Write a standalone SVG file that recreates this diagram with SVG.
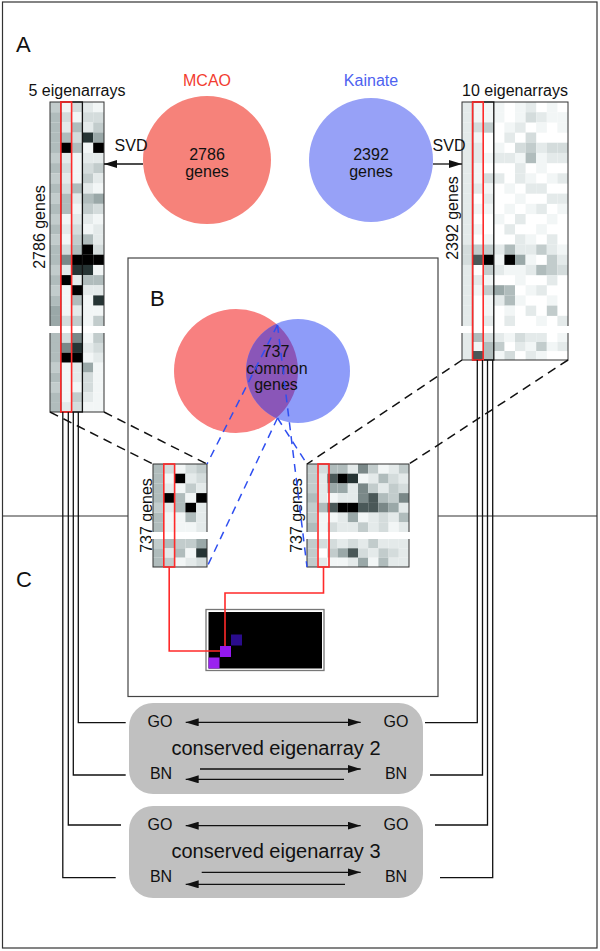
<svg xmlns="http://www.w3.org/2000/svg" width="600" height="951" viewBox="0 0 600 951">
<style>
text{font-family:"Liberation Sans",Arial,Helvetica,sans-serif;fill:#111}
.k0{fill:#000}.k1{fill:#263434}.k2{fill:#4a5858}.k3{fill:#7a8888}.k4{fill:#9aa8a8}.k5{fill:#b0bcbc}.k6{fill:#c2cccc}.k7{fill:#d4dcdc}.k8{fill:#e4eaea}.k9{fill:#f2f6f6}
.ln{stroke:#111;stroke-width:1.3;fill:none}
.dk{stroke:#111;stroke-width:1.5;stroke-dasharray:9 6;fill:none}
.db{stroke:#2f4ff0;stroke-width:1.5;stroke-dasharray:8 6;fill:none}
.red{stroke:#ff2a2a;stroke-width:1.6;fill:none}
.blk{stroke:#111;stroke-width:1.3;fill:none}
.out{stroke:#333;stroke-width:1;fill:none}
.lbl{font-size:16px}
.big{font-size:22px}
</style>
<defs>
<marker id="ah" viewBox="0 0 13 8" refX="13" refY="4" markerWidth="13" markerHeight="8" orient="auto-start-reverse" markerUnits="userSpaceOnUse"><path d="M0,0 L13,4 L0,8 z" fill="#111"/></marker>
<clipPath id="clipBlue"><circle cx="298" cy="371" r="52"/></clipPath>
</defs>
<rect x="0" y="0" width="600" height="951" fill="#fff"/>
<rect x="2.5" y="2" width="594.5" height="946" fill="none" stroke="#333" stroke-width="1.2"/>
<line x1="2" y1="516" x2="597" y2="516" stroke="#333" stroke-width="1.2"/>
<text x="16" y="52" class="big">A</text>
<text x="16" y="587" class="big">C</text>

<g id="boxB">
<rect x="128" y="258" width="310" height="438.5" fill="#fff" stroke="#444" stroke-width="1.2"/>
<text x="150" y="306" class="big">B</text>
</g>

<g id="mcao">
<circle cx="207" cy="160" r="64" fill="#f6827a"/>
<text x="207" y="86" class="lbl" text-anchor="middle" style="fill:#f23c30">MCAO</text>
<text x="207" y="160" class="lbl" text-anchor="middle">2786</text>
<text x="207" y="177" class="lbl" text-anchor="middle">genes</text>
</g>
<g id="kainate">
<circle cx="371" cy="160" r="62" fill="#97a1f7"/>
<text x="371" y="86" class="lbl" text-anchor="middle" style="fill:#4e62f0">Kainate</text>
<text x="371" y="160" class="lbl" text-anchor="middle">2392</text>
<text x="371" y="177" class="lbl" text-anchor="middle">genes</text>
</g>

<g id="venn">
<circle cx="236" cy="371" r="62" fill="#f88080"/>
<circle cx="298" cy="371" r="52" fill="#8e9cf9"/>
<circle cx="236" cy="371" r="62" fill="#8a56b8" clip-path="url(#clipBlue)"/>
<text x="276" y="357" class="lbl" text-anchor="middle">737</text>
<text x="277" y="374" class="lbl" text-anchor="middle">common</text>
<text x="276" y="390" class="lbl" text-anchor="middle">genes</text>
</g>

<g id="leftMatrix">
<text x="77" y="96" class="lbl" text-anchor="middle">5 eigenarrays</text>
<text transform="translate(45,227) rotate(-90)" class="lbl" text-anchor="middle">2786 genes</text>
<rect x="50" y="102" width="54" height="310" fill="#fff"/>
<g transform="translate(50,102)"><rect x="0" width="10.8" height="10.3" class="k6"/><rect x="10.8" width="10.8" height="10.3" class="k9"/><rect x="21.6" width="10.8" height="10.3" class="k7"/><rect x="32.4" width="10.8" height="10.3" class="k8"/><rect x="43.2" width="10.8" height="10.3" class="k9"/></g>
<g transform="translate(50,112.2)"><rect x="0" width="10.8" height="10.3" class="k5"/><rect x="10.8" width="10.8" height="10.3" class="k7"/><rect x="21.6" width="10.8" height="10.3" class="k9"/><rect x="32.4" width="10.8" height="10.3" class="k7"/><rect x="43.2" width="10.8" height="10.3" class="k7"/></g>
<g transform="translate(50,122.4)"><rect x="0" width="10.8" height="10.3" class="k5"/><rect x="10.8" width="10.8" height="10.3" class="k8"/><rect x="21.6" width="10.8" height="10.3" class="k5"/><rect x="32.4" width="10.8" height="10.3" class="k8"/><rect x="43.2" width="10.8" height="10.3" class="k6"/></g>
<g transform="translate(50,132.5)"><rect x="0" width="10.8" height="10.3" class="k5"/><rect x="10.8" width="10.8" height="10.3" class="k5"/><rect x="21.6" width="10.8" height="10.3" class="k7"/><rect x="32.4" width="10.8" height="10.3" class="k1"/><rect x="43.2" width="10.8" height="10.3" class="k4"/></g>
<g transform="translate(50,142.7)"><rect x="0" width="10.8" height="10.3" class="k5"/><rect x="10.8" width="10.8" height="10.3" class="k0"/><rect x="21.6" width="10.8" height="10.3" class="k5"/><rect x="32.4" width="10.8" height="10.3" class="k9"/><rect x="43.2" width="10.8" height="10.3" class="k0"/></g>
<g transform="translate(50,152.9)"><rect x="0" width="10.8" height="10.3" class="k6"/><rect x="10.8" width="10.8" height="10.3" class="k8"/><rect x="21.6" width="10.8" height="10.3" class="k9"/><rect x="32.4" width="10.8" height="10.3" class="k8"/><rect x="43.2" width="10.8" height="10.3" class="k8"/></g>
<g transform="translate(50,163.1)"><rect x="0" width="10.8" height="10.3" class="k5"/><rect x="10.8" width="10.8" height="10.3" class="k7"/><rect x="21.6" width="10.8" height="10.3" class="k9"/><rect x="32.4" width="10.8" height="10.3" class="k7"/><rect x="43.2" width="10.8" height="10.3" class="k6"/></g>
<g transform="translate(50,173.3)"><rect x="0" width="10.8" height="10.3" class="k6"/><rect x="10.8" width="10.8" height="10.3" class="k8"/><rect x="21.6" width="10.8" height="10.3" class="k9"/><rect x="32.4" width="10.8" height="10.3" class="k6"/><rect x="43.2" width="10.8" height="10.3" class="k8"/></g>
<g transform="translate(50,183.4)"><rect x="0" width="10.8" height="10.3" class="k5"/><rect x="10.8" width="10.8" height="10.3" class="k7"/><rect x="21.6" width="10.8" height="10.3" class="k5"/><rect x="32.4" width="10.8" height="10.3" class="k8"/><rect x="43.2" width="10.8" height="10.3" class="k9"/></g>
<g transform="translate(50,193.6)"><rect x="0" width="10.8" height="10.3" class="k6"/><rect x="10.8" width="10.8" height="10.3" class="k5"/><rect x="21.6" width="10.8" height="10.3" class="k8"/><rect x="32.4" width="10.8" height="10.3" class="k5"/><rect x="43.2" width="10.8" height="10.3" class="k4"/></g>
<g transform="translate(50,203.8)"><rect x="0" width="10.8" height="10.3" class="k5"/><rect x="10.8" width="10.8" height="10.3" class="k5"/><rect x="21.6" width="10.8" height="10.3" class="k9"/><rect x="32.4" width="10.8" height="10.3" class="k6"/><rect x="43.2" width="10.8" height="10.3" class="k7"/></g>
<g transform="translate(50,214)"><rect x="0" width="10.8" height="10.3" class="k6"/><rect x="10.8" width="10.8" height="10.3" class="k9"/><rect x="21.6" width="10.8" height="10.3" class="k8"/><rect x="32.4" width="10.8" height="10.3" class="k8"/><rect x="43.2" width="10.8" height="10.3" class="k9"/></g>
<g transform="translate(50,224.2)"><rect x="0" width="10.8" height="10.3" class="k5"/><rect x="10.8" width="10.8" height="10.3" class="k8"/><rect x="21.6" width="10.8" height="10.3" class="k7"/><rect x="32.4" width="10.8" height="10.3" class="k9"/><rect x="43.2" width="10.8" height="10.3" class="k8"/></g>
<g transform="translate(50,234.3)"><rect x="0" width="10.8" height="10.3" class="k6"/><rect x="10.8" width="10.8" height="10.3" class="k9"/><rect x="21.6" width="10.8" height="10.3" class="k6"/><rect x="32.4" width="10.8" height="10.3" class="k5"/><rect x="43.2" width="10.8" height="10.3" class="k8"/></g>
<g transform="translate(50,244.5)"><rect x="0" width="10.8" height="10.3" class="k5"/><rect x="10.8" width="10.8" height="10.3" class="k7"/><rect x="21.6" width="10.8" height="10.3" class="k5"/><rect x="32.4" width="10.8" height="10.3" class="k0"/><rect x="43.2" width="10.8" height="10.3" class="k7"/></g>
<g transform="translate(50,254.7)"><rect x="0" width="10.8" height="10.3" class="k5"/><rect x="10.8" width="10.8" height="10.3" class="k3"/><rect x="21.6" width="10.8" height="10.3" class="k0"/><rect x="32.4" width="10.8" height="10.3" class="k0"/><rect x="43.2" width="10.8" height="10.3" class="k0"/></g>
<g transform="translate(50,264.9)"><rect x="0" width="10.8" height="10.3" class="k6"/><rect x="10.8" width="10.8" height="10.3" class="k8"/><rect x="21.6" width="10.8" height="10.3" class="k1"/><rect x="32.4" width="10.8" height="10.3" class="k1"/><rect x="43.2" width="10.8" height="10.3" class="k9"/></g>
<g transform="translate(50,275.1)"><rect x="0" width="10.8" height="10.3" class="k5"/><rect x="10.8" width="10.8" height="10.3" class="k0"/><rect x="21.6" width="10.8" height="10.3" class="k8"/><rect x="32.4" width="10.8" height="10.3" class="k5"/><rect x="43.2" width="10.8" height="10.3" class="k5"/></g>
<g transform="translate(50,285.2)"><rect x="0" width="10.8" height="10.3" class="k6"/><rect x="10.8" width="10.8" height="10.3" class="k9"/><rect x="21.6" width="10.8" height="10.3" class="k0"/><rect x="32.4" width="10.8" height="10.3" class="k8"/><rect x="43.2" width="10.8" height="10.3" class="k8"/></g>
<g transform="translate(50,295.4)"><rect x="0" width="10.8" height="10.3" class="k5"/><rect x="10.8" width="10.8" height="10.3" class="k9"/><rect x="21.6" width="10.8" height="10.3" class="k5"/><rect x="32.4" width="10.8" height="10.3" class="k9"/><rect x="43.2" width="10.8" height="10.3" class="k1"/></g>
<g transform="translate(50,305.6)"><rect x="0" width="10.8" height="10.3" class="k4"/><rect x="10.8" width="10.8" height="10.3" class="k9"/><rect x="21.6" width="10.8" height="10.3" class="k8"/><rect x="32.4" width="10.8" height="10.3" class="k9"/><rect x="43.2" width="10.8" height="10.3" class="k9"/></g>
<g transform="translate(50,315.8)"><rect x="0" width="10.8" height="10.2" class="k4"/><rect x="10.8" width="10.8" height="10.2" class="k7"/><rect x="21.6" width="10.8" height="10.2" class="k6"/><rect x="32.4" width="10.8" height="10.2" class="k9"/><rect x="43.2" width="10.8" height="10.2" class="k6"/></g>
<g transform="translate(50,333)"><rect x="0" width="10.8" height="10" class="k5"/><rect x="10.8" width="10.8" height="10" class="k7"/><rect x="21.6" width="10.8" height="10" class="k3"/><rect x="32.4" width="10.8" height="10" class="k9"/><rect x="43.2" width="10.8" height="10" class="k6"/></g>
<g transform="translate(50,342.9)"><rect x="0" width="10.8" height="10" class="k5"/><rect x="10.8" width="10.8" height="10" class="k3"/><rect x="21.6" width="10.8" height="10" class="k1"/><rect x="32.4" width="10.8" height="10" class="k8"/><rect x="43.2" width="10.8" height="10" class="k7"/></g>
<g transform="translate(50,352.8)"><rect x="0" width="10.8" height="10" class="k5"/><rect x="10.8" width="10.8" height="10" class="k0"/><rect x="21.6" width="10.8" height="10" class="k0"/><rect x="32.4" width="10.8" height="10" class="k9"/><rect x="43.2" width="10.8" height="10" class="k8"/></g>
<g transform="translate(50,362.6)"><rect x="0" width="10.8" height="10" class="k6"/><rect x="10.8" width="10.8" height="10" class="k9"/><rect x="21.6" width="10.8" height="10" class="k8"/><rect x="32.4" width="10.8" height="10" class="k4"/><rect x="43.2" width="10.8" height="10" class="k9"/></g>
<g transform="translate(50,372.5)"><rect x="0" width="10.8" height="10" class="k5"/><rect x="10.8" width="10.8" height="10" class="k9"/><rect x="21.6" width="10.8" height="10" class="k8"/><rect x="32.4" width="10.8" height="10" class="k7"/><rect x="43.2" width="10.8" height="10" class="k9"/></g>
<g transform="translate(50,382.4)"><rect x="0" width="10.8" height="10" class="k6"/><rect x="10.8" width="10.8" height="10" class="k9"/><rect x="21.6" width="10.8" height="10" class="k9"/><rect x="32.4" width="10.8" height="10" class="k7"/><rect x="43.2" width="10.8" height="10" class="k9"/></g>
<g transform="translate(50,392.3)"><rect x="0" width="10.8" height="10" class="k5"/><rect x="10.8" width="10.8" height="10" class="k9"/><rect x="21.6" width="10.8" height="10" class="k6"/><rect x="32.4" width="10.8" height="10" class="k8"/><rect x="43.2" width="10.8" height="10" class="k9"/></g>
<g transform="translate(50,402.1)"><rect x="0" width="10.8" height="9.9" class="k5"/><rect x="10.8" width="10.8" height="9.9" class="k8"/><rect x="21.6" width="10.8" height="9.9" class="k7"/><rect x="32.4" width="10.8" height="9.9" class="k9"/><rect x="43.2" width="10.8" height="9.9" class="k9"/></g>
<rect x="50" y="102" width="54" height="310" class="out"/>
<rect x="48" y="326" width="58" height="7" fill="#fff"/>
<rect x="60.8" y="102" width="21.6" height="310" class="blk"/>
<rect x="60.8" y="102" width="10.8" height="310" class="red"/>
</g>

<g id="rightMatrix">
<text x="515" y="96" class="lbl" text-anchor="middle">10 eigenarrays</text>
<text transform="translate(458,218) rotate(-90)" class="lbl" text-anchor="middle">2392 genes</text>
<rect x="462" y="102" width="106" height="258" fill="#fff"/>
<g transform="translate(462,102)"><rect x="0" width="10.6" height="10.3" class="k8"/><rect x="10.6" width="10.6" height="10.3" class="k9"/><rect x="21.2" width="10.6" height="10.3" class="k9"/><rect x="31.8" width="10.6" height="10.3" class="k9"/><rect x="53" width="10.6" height="10.3" class="k9"/><rect x="63.6" width="10.6" height="10.3" class="k8"/><rect x="84.8" width="10.6" height="10.3" class="k9"/></g>
<g transform="translate(462,112.2)"><rect x="0" width="10.6" height="10.3" class="k8"/><rect x="10.6" width="10.6" height="10.3" class="k9"/><rect x="21.2" width="10.6" height="10.3" class="k9"/><rect x="31.8" width="10.6" height="10.3" class="k9"/><rect x="53" width="10.6" height="10.3" class="k9"/><rect x="63.6" width="10.6" height="10.3" class="k7"/><rect x="74.2" width="10.6" height="10.3" class="k8"/><rect x="84.8" width="10.6" height="10.3" class="k9"/><rect x="95.4" width="10.6" height="10.3" class="k9"/></g>
<g transform="translate(462,122.4)"><rect x="0" width="10.6" height="10.3" class="k8"/><rect x="10.6" width="10.6" height="10.3" class="k7"/><rect x="21.2" width="10.6" height="10.3" class="k6"/><rect x="42.4" width="10.6" height="10.3" class="k9"/><rect x="53" width="10.6" height="10.3" class="k8"/><rect x="74.2" width="10.6" height="10.3" class="k9"/><rect x="95.4" width="10.6" height="10.3" class="k9"/></g>
<g transform="translate(462,132.5)"><rect x="0" width="10.6" height="10.3" class="k8"/><rect x="10.6" width="10.6" height="10.3" class="k9"/><rect x="42.4" width="10.6" height="10.3" class="k8"/><rect x="63.6" width="10.6" height="10.3" class="k7"/></g>
<g transform="translate(462,142.7)"><rect x="0" width="10.6" height="10.3" class="k8"/><rect x="10.6" width="10.6" height="10.3" class="k8"/><rect x="31.8" width="10.6" height="10.3" class="k9"/><rect x="53" width="10.6" height="10.3" class="k7"/><rect x="63.6" width="10.6" height="10.3" class="k6"/><rect x="74.2" width="10.6" height="10.3" class="k8"/><rect x="84.8" width="10.6" height="10.3" class="k7"/><rect x="95.4" width="10.6" height="10.3" class="k7"/></g>
<g transform="translate(462,152.9)"><rect x="0" width="10.6" height="10.3" class="k8"/><rect x="10.6" width="10.6" height="10.3" class="k8"/><rect x="21.2" width="10.6" height="10.3" class="k9"/><rect x="31.8" width="10.6" height="10.3" class="k8"/><rect x="42.4" width="10.6" height="10.3" class="k8"/><rect x="53" width="10.6" height="10.3" class="k9"/><rect x="63.6" width="10.6" height="10.3" class="k5"/><rect x="74.2" width="10.6" height="10.3" class="k9"/><rect x="84.8" width="10.6" height="10.3" class="k8"/><rect x="95.4" width="10.6" height="10.3" class="k8"/></g>
<g transform="translate(462,163.1)"><rect x="0" width="10.6" height="10.3" class="k8"/><rect x="10.6" width="10.6" height="10.3" class="k9"/><rect x="53" width="10.6" height="10.3" class="k8"/><rect x="74.2" width="10.6" height="10.3" class="k9"/></g>
<g transform="translate(462,173.3)"><rect x="0" width="10.6" height="10.3" class="k8"/><rect x="10.6" width="10.6" height="10.3" class="k9"/><rect x="21.2" width="10.6" height="10.3" class="k7"/><rect x="31.8" width="10.6" height="10.3" class="k8"/><rect x="53" width="10.6" height="10.3" class="k8"/><rect x="63.6" width="10.6" height="10.3" class="k9"/><rect x="84.8" width="10.6" height="10.3" class="k9"/><rect x="95.4" width="10.6" height="10.3" class="k8"/></g>
<g transform="translate(462,183.4)"><rect x="0" width="10.6" height="10.3" class="k8"/><rect x="10.6" width="10.6" height="10.3" class="k8"/><rect x="21.2" width="10.6" height="10.3" class="k9"/><rect x="42.4" width="10.6" height="10.3" class="k9"/><rect x="63.6" width="10.6" height="10.3" class="k8"/><rect x="74.2" width="10.6" height="10.3" class="k8"/></g>
<g transform="translate(462,193.6)"><rect x="0" width="10.6" height="10.3" class="k8"/><rect x="21.2" width="10.6" height="10.3" class="k8"/><rect x="53" width="10.6" height="10.3" class="k9"/><rect x="84.8" width="10.6" height="10.3" class="k8"/><rect x="95.4" width="10.6" height="10.3" class="k8"/></g>
<g transform="translate(462,203.8)"><rect x="0" width="10.6" height="10.3" class="k8"/><rect x="10.6" width="10.6" height="10.3" class="k9"/><rect x="21.2" width="10.6" height="10.3" class="k9"/><rect x="42.4" width="10.6" height="10.3" class="k9"/><rect x="63.6" width="10.6" height="10.3" class="k9"/><rect x="74.2" width="10.6" height="10.3" class="k8"/><rect x="95.4" width="10.6" height="10.3" class="k9"/></g>
<g transform="translate(462,214)"><rect x="0" width="10.6" height="10.3" class="k8"/><rect x="31.8" width="10.6" height="10.3" class="k9"/><rect x="53" width="10.6" height="10.3" class="k8"/><rect x="84.8" width="10.6" height="10.3" class="k9"/></g>
<g transform="translate(462,224.2)"><rect x="0" width="10.6" height="10.3" class="k8"/><rect x="10.6" width="10.6" height="10.3" class="k9"/><rect x="42.4" width="10.6" height="10.3" class="k8"/><rect x="74.2" width="10.6" height="10.3" class="k9"/></g>
<g transform="translate(462,234.3)"><rect x="0" width="10.6" height="10.3" class="k8"/><rect x="21.2" width="10.6" height="10.3" class="k9"/><rect x="53" width="10.6" height="10.3" class="k8"/><rect x="63.6" width="10.6" height="10.3" class="k9"/><rect x="84.8" width="10.6" height="10.3" class="k8"/></g>
<g transform="translate(462,244.5)"><rect x="0" width="10.6" height="10.3" class="k7"/><rect x="10.6" width="10.6" height="10.3" class="k6"/><rect x="21.2" width="10.6" height="10.3" class="k6"/><rect x="31.8" width="10.6" height="10.3" class="k8"/><rect x="42.4" width="10.6" height="10.3" class="k5"/><rect x="53" width="10.6" height="10.3" class="k8"/><rect x="63.6" width="10.6" height="10.3" class="k8"/><rect x="74.2" width="10.6" height="10.3" class="k6"/><rect x="84.8" width="10.6" height="10.3" class="k8"/><rect x="95.4" width="10.6" height="10.3" class="k9"/></g>
<g transform="translate(462,254.7)"><rect x="0" width="10.6" height="10.3" class="k7"/><rect x="10.6" width="10.6" height="10.3" class="k2"/><rect x="21.2" width="10.6" height="10.3" class="k0"/><rect x="31.8" width="10.6" height="10.3" class="k9"/><rect x="42.4" width="10.6" height="10.3" class="k0"/><rect x="53" width="10.6" height="10.3" class="k4"/><rect x="63.6" width="10.6" height="10.3" class="k9"/><rect x="84.8" width="10.6" height="10.3" class="k6"/><rect x="95.4" width="10.6" height="10.3" class="k8"/></g>
<g transform="translate(462,264.9)"><rect x="0" width="10.6" height="10.3" class="k8"/><rect x="21.2" width="10.6" height="10.3" class="k6"/><rect x="31.8" width="10.6" height="10.3" class="k8"/><rect x="42.4" width="10.6" height="10.3" class="k9"/><rect x="53" width="10.6" height="10.3" class="k9"/><rect x="63.6" width="10.6" height="10.3" class="k8"/><rect x="74.2" width="10.6" height="10.3" class="k5"/><rect x="84.8" width="10.6" height="10.3" class="k6"/><rect x="95.4" width="10.6" height="10.3" class="k7"/></g>
<g transform="translate(462,275.1)"><rect x="0" width="10.6" height="10.3" class="k8"/><rect x="10.6" width="10.6" height="10.3" class="k8"/><rect x="21.2" width="10.6" height="10.3" class="k9"/><rect x="53" width="10.6" height="10.3" class="k9"/><rect x="84.8" width="10.6" height="10.3" class="k8"/></g>
<g transform="translate(462,285.2)"><rect x="0" width="10.6" height="10.3" class="k8"/><rect x="10.6" width="10.6" height="10.3" class="k9"/><rect x="21.2" width="10.6" height="10.3" class="k6"/><rect x="31.8" width="10.6" height="10.3" class="k4"/><rect x="42.4" width="10.6" height="10.3" class="k5"/><rect x="63.6" width="10.6" height="10.3" class="k9"/><rect x="74.2" width="10.6" height="10.3" class="k8"/></g>
<g transform="translate(462,295.4)"><rect x="0" width="10.6" height="10.3" class="k8"/><rect x="21.2" width="10.6" height="10.3" class="k9"/><rect x="31.8" width="10.6" height="10.3" class="k8"/><rect x="42.4" width="10.6" height="10.3" class="k5"/><rect x="53" width="10.6" height="10.3" class="k9"/><rect x="84.8" width="10.6" height="10.3" class="k9"/></g>
<g transform="translate(462,305.6)"><rect x="0" width="10.6" height="10.3" class="k8"/><rect x="21.2" width="10.6" height="10.3" class="k9"/><rect x="42.4" width="10.6" height="10.3" class="k9"/><rect x="63.6" width="10.6" height="10.3" class="k8"/><rect x="84.8" width="10.6" height="10.3" class="k6"/></g>
<g transform="translate(462,315.8)"><rect x="0" width="10.6" height="10.2" class="k8"/><rect x="21.2" width="10.6" height="10.2" class="k8"/><rect x="42.4" width="10.6" height="10.2" class="k8"/><rect x="74.2" width="10.6" height="10.2" class="k9"/><rect x="95.4" width="10.6" height="10.2" class="k8"/></g>
<g transform="translate(462,333)"><rect x="0" width="10.6" height="9.1" class="k8"/><rect x="10.6" width="10.6" height="9.1" class="k5"/><rect x="21.2" width="10.6" height="9.1" class="k7"/><rect x="31.8" width="10.6" height="9.1" class="k8"/><rect x="42.4" width="10.6" height="9.1" class="k9"/><rect x="53" width="10.6" height="9.1" class="k7"/><rect x="63.6" width="10.6" height="9.1" class="k8"/><rect x="74.2" width="10.6" height="9.1" class="k8"/><rect x="95.4" width="10.6" height="9.1" class="k9"/></g>
<g transform="translate(462,342)"><rect x="0" width="10.6" height="9.1" class="k8"/><rect x="10.6" width="10.6" height="9.1" class="k9"/><rect x="21.2" width="10.6" height="9.1" class="k5"/><rect x="31.8" width="10.6" height="9.1" class="k6"/><rect x="53" width="10.6" height="9.1" class="k8"/><rect x="63.6" width="10.6" height="9.1" class="k9"/><rect x="74.2" width="10.6" height="9.1" class="k6"/><rect x="84.8" width="10.6" height="9.1" class="k9"/><rect x="95.4" width="10.6" height="9.1" class="k8"/></g>
<g transform="translate(462,351)"><rect x="0" width="10.6" height="9" class="k8"/><rect x="10.6" width="10.6" height="9" class="k2"/><rect x="21.2" width="10.6" height="9" class="k5"/><rect x="31.8" width="10.6" height="9" class="k9"/><rect x="42.4" width="10.6" height="9" class="k7"/><rect x="63.6" width="10.6" height="9" class="k8"/><rect x="74.2" width="10.6" height="9" class="k9"/></g>
<rect x="462" y="102" width="106" height="258" class="out"/>
<rect x="460" y="326" width="110" height="7" fill="#fff"/>
<rect x="472.6" y="102" width="21.2" height="258" class="blk"/>
<rect x="472.6" y="102" width="10.6" height="258" class="red"/>
</g>

<g id="smallLeft">
<text transform="translate(152,515.5) rotate(-90)" class="lbl" text-anchor="middle">737 genes</text>
<rect x="153" y="464" width="54" height="103" fill="#fff"/>
<g transform="translate(153,464)"><rect x="0" width="10.8" height="9.8" class="k5"/><rect x="10.8" width="10.8" height="9.8" class="k7"/><rect x="21.6" width="10.8" height="9.8" class="k9"/><rect x="32.4" width="10.8" height="9.8" class="k7"/><rect x="43.2" width="10.8" height="9.8" class="k6"/></g>
<g transform="translate(153,473.7)"><rect x="0" width="10.8" height="9.8" class="k5"/><rect x="10.8" width="10.8" height="9.8" class="k9"/><rect x="21.6" width="10.8" height="9.8" class="k0"/><rect x="32.4" width="10.8" height="9.8" class="k8"/><rect x="43.2" width="10.8" height="9.8" class="k7"/></g>
<g transform="translate(153,483.4)"><rect x="0" width="10.8" height="9.8" class="k5"/><rect x="10.8" width="10.8" height="9.8" class="k8"/><rect x="21.6" width="10.8" height="9.8" class="k9"/><rect x="32.4" width="10.8" height="9.8" class="k6"/><rect x="43.2" width="10.8" height="9.8" class="k8"/></g>
<g transform="translate(153,493.1)"><rect x="0" width="10.8" height="9.8" class="k5"/><rect x="10.8" width="10.8" height="9.8" class="k0"/><rect x="21.6" width="10.8" height="9.8" class="k5"/><rect x="32.4" width="10.8" height="9.8" class="k9"/><rect x="43.2" width="10.8" height="9.8" class="k0"/></g>
<g transform="translate(153,502.8)"><rect x="0" width="10.8" height="9.8" class="k6"/><rect x="10.8" width="10.8" height="9.8" class="k8"/><rect x="21.6" width="10.8" height="9.8" class="k5"/><rect x="32.4" width="10.8" height="9.8" class="k0"/><rect x="43.2" width="10.8" height="9.8" class="k8"/></g>
<g transform="translate(153,512.6)"><rect x="0" width="10.8" height="9.8" class="k5"/><rect x="10.8" width="10.8" height="9.8" class="k9"/><rect x="21.6" width="10.8" height="9.8" class="k9"/><rect x="32.4" width="10.8" height="9.8" class="k5"/><rect x="43.2" width="10.8" height="9.8" class="k8"/></g>
<g transform="translate(153,522.3)"><rect x="0" width="10.8" height="9.7" class="k5"/><rect x="10.8" width="10.8" height="9.7" class="k9"/><rect x="21.6" width="10.8" height="9.7" class="k9"/><rect x="32.4" width="10.8" height="9.7" class="k9"/><rect x="43.2" width="10.8" height="9.7" class="k8"/></g>
<g transform="translate(153,539)"><rect x="0" width="10.8" height="9.4" class="k6"/><rect x="10.8" width="10.8" height="9.4" class="k5"/><rect x="21.6" width="10.8" height="9.4" class="k6"/><rect x="32.4" width="10.8" height="9.4" class="k6"/><rect x="43.2" width="10.8" height="9.4" class="k4"/></g>
<g transform="translate(153,548.3)"><rect x="0" width="10.8" height="9.4" class="k5"/><rect x="10.8" width="10.8" height="9.4" class="k8"/><rect x="21.6" width="10.8" height="9.4" class="k5"/><rect x="32.4" width="10.8" height="9.4" class="k9"/><rect x="43.2" width="10.8" height="9.4" class="k1"/></g>
<g transform="translate(153,557.7)"><rect x="0" width="10.8" height="9.3" class="k5"/><rect x="10.8" width="10.8" height="9.3" class="k6"/><rect x="21.6" width="10.8" height="9.3" class="k9"/><rect x="32.4" width="10.8" height="9.3" class="k8"/><rect x="43.2" width="10.8" height="9.3" class="k7"/></g>
<rect x="153" y="464" width="54" height="103" class="out"/>
<rect x="151" y="532" width="58" height="7" fill="#fff"/>
<rect x="163.8" y="464" width="10.8" height="103" class="red"/>
</g>

<g id="smallRight">
<text transform="translate(302,515.5) rotate(-90)" class="lbl" text-anchor="middle">737 genes</text>
<rect x="307" y="464" width="102" height="103" fill="#fff"/>
<g transform="translate(307,464)"><rect x="0" width="10.2" height="9.8" class="k6"/><rect x="10.2" width="10.2" height="9.8" class="k7"/><rect x="20.4" width="10.2" height="9.8" class="k5"/><rect x="30.6" width="10.2" height="9.8" class="k5"/><rect x="40.8" width="10.2" height="9.8" class="k8"/><rect x="51" width="10.2" height="9.8" class="k3"/><rect x="61.2" width="10.2" height="9.8" class="k6"/><rect x="71.4" width="10.2" height="9.8" class="k9"/><rect x="81.6" width="10.2" height="9.8" class="k8"/><rect x="91.8" width="10.2" height="9.8" class="k6"/></g>
<g transform="translate(307,473.7)"><rect x="0" width="10.2" height="9.8" class="k6"/><rect x="10.2" width="10.2" height="9.8" class="k8"/><rect x="20.4" width="10.2" height="9.8" class="k2"/><rect x="30.6" width="10.2" height="9.8" class="k0"/><rect x="40.8" width="10.2" height="9.8" class="k1"/><rect x="51" width="10.2" height="9.8" class="k9"/><rect x="61.2" width="10.2" height="9.8" class="k8"/><rect x="71.4" width="10.2" height="9.8" class="k5"/><rect x="81.6" width="10.2" height="9.8" class="k7"/><rect x="91.8" width="10.2" height="9.8" class="k8"/></g>
<g transform="translate(307,483.4)"><rect x="0" width="10.2" height="9.8" class="k6"/><rect x="10.2" width="10.2" height="9.8" class="k8"/><rect x="20.4" width="10.2" height="9.8" class="k4"/><rect x="30.6" width="10.2" height="9.8" class="k4"/><rect x="40.8" width="10.2" height="9.8" class="k8"/><rect x="51" width="10.2" height="9.8" class="k3"/><rect x="61.2" width="10.2" height="9.8" class="k6"/><rect x="71.4" width="10.2" height="9.8" class="k8"/><rect x="81.6" width="10.2" height="9.8" class="k6"/><rect x="91.8" width="10.2" height="9.8" class="k7"/></g>
<g transform="translate(307,493.1)"><rect x="0" width="10.2" height="9.8" class="k5"/><rect x="10.2" width="10.2" height="9.8" class="k8"/><rect x="20.4" width="10.2" height="9.8" class="k9"/><rect x="30.6" width="10.2" height="9.8" class="k8"/><rect x="40.8" width="10.2" height="9.8" class="k8"/><rect x="51" width="10.2" height="9.8" class="k3"/><rect x="61.2" width="10.2" height="9.8" class="k2"/><rect x="71.4" width="10.2" height="9.8" class="k5"/><rect x="81.6" width="10.2" height="9.8" class="k6"/><rect x="91.8" width="10.2" height="9.8" class="k3"/></g>
<g transform="translate(307,502.8)"><rect x="0" width="10.2" height="9.8" class="k6"/><rect x="10.2" width="10.2" height="9.8" class="k5"/><rect x="20.4" width="10.2" height="9.8" class="k2"/><rect x="30.6" width="10.2" height="9.8" class="k0"/><rect x="40.8" width="10.2" height="9.8" class="k0"/><rect x="51" width="10.2" height="9.8" class="k2"/><rect x="61.2" width="10.2" height="9.8" class="k2"/><rect x="71.4" width="10.2" height="9.8" class="k3"/><rect x="81.6" width="10.2" height="9.8" class="k4"/><rect x="91.8" width="10.2" height="9.8" class="k8"/></g>
<g transform="translate(307,512.6)"><rect x="0" width="10.2" height="9.8" class="k6"/><rect x="10.2" width="10.2" height="9.8" class="k9"/><rect x="20.4" width="10.2" height="9.8" class="k9"/><rect x="30.6" width="10.2" height="9.8" class="k8"/><rect x="40.8" width="10.2" height="9.8" class="k4"/><rect x="51" width="10.2" height="9.8" class="k9"/><rect x="61.2" width="10.2" height="9.8" class="k8"/><rect x="71.4" width="10.2" height="9.8" class="k7"/><rect x="81.6" width="10.2" height="9.8" class="k8"/><rect x="91.8" width="10.2" height="9.8" class="k5"/></g>
<g transform="translate(307,522.3)"><rect x="0" width="10.2" height="9.7" class="k5"/><rect x="10.2" width="10.2" height="9.7" class="k9"/><rect x="20.4" width="10.2" height="9.7" class="k7"/><rect x="30.6" width="10.2" height="9.7" class="k8"/><rect x="40.8" width="10.2" height="9.7" class="k8"/><rect x="51" width="10.2" height="9.7" class="k6"/><rect x="61.2" width="10.2" height="9.7" class="k8"/><rect x="71.4" width="10.2" height="9.7" class="k7"/><rect x="81.6" width="10.2" height="9.7" class="k9"/><rect x="91.8" width="10.2" height="9.7" class="k8"/></g>
<g transform="translate(307,539)"><rect x="0" width="10.2" height="9.4" class="k6"/><rect x="10.2" width="10.2" height="9.4" class="k7"/><rect x="20.4" width="10.2" height="9.4" class="k7"/><rect x="30.6" width="10.2" height="9.4" class="k8"/><rect x="40.8" width="10.2" height="9.4" class="k7"/><rect x="51" width="10.2" height="9.4" class="k8"/><rect x="61.2" width="10.2" height="9.4" class="k6"/><rect x="71.4" width="10.2" height="9.4" class="k8"/><rect x="81.6" width="10.2" height="9.4" class="k8"/><rect x="91.8" width="10.2" height="9.4" class="k8"/></g>
<g transform="translate(307,548.3)"><rect x="0" width="10.2" height="9.4" class="k6"/><rect x="20.4" width="10.2" height="9.4" class="k6"/><rect x="30.6" width="10.2" height="9.4" class="k4"/><rect x="40.8" width="10.2" height="9.4" class="k2"/><rect x="51" width="10.2" height="9.4" class="k7"/><rect x="61.2" width="10.2" height="9.4" class="k8"/><rect x="71.4" width="10.2" height="9.4" class="k6"/><rect x="81.6" width="10.2" height="9.4" class="k7"/><rect x="91.8" width="10.2" height="9.4" class="k8"/></g>
<g transform="translate(307,557.7)"><rect x="0" width="10.2" height="9.3" class="k6"/><rect x="10.2" width="10.2" height="9.3" class="k8"/><rect x="20.4" width="10.2" height="9.3" class="k9"/><rect x="30.6" width="10.2" height="9.3" class="k9"/><rect x="40.8" width="10.2" height="9.3" class="k8"/><rect x="51" width="10.2" height="9.3" class="k4"/><rect x="61.2" width="10.2" height="9.3" class="k9"/><rect x="71.4" width="10.2" height="9.3" class="k5"/><rect x="81.6" width="10.2" height="9.3" class="k8"/><rect x="91.8" width="10.2" height="9.3" class="k8"/></g>
<rect x="307" y="464" width="102" height="103" class="out"/>
<rect x="305" y="532" width="106" height="7" fill="#fff"/>
<rect x="318" y="464" width="11" height="103" class="red"/>
</g>

<g id="blackMatrix">
<rect x="206" y="609.5" width="118" height="61" fill="#fff" stroke="#777" stroke-width="1.3"/>
<rect x="208.5" y="612" width="113.5" height="56.5" fill="#000"/>
<rect x="231" y="634.5" width="11" height="11" fill="#2a0c8c"/>
<rect x="220" y="646" width="11" height="11" fill="#9418f0"/>
<rect x="208.5" y="657.5" width="11" height="11" fill="#9a22f0"/>
</g>

<g id="pill2">
<rect x="129" y="703" width="294" height="91" rx="24" fill="#c0c0c0"/>
<text x="160" y="727" class="lbl" text-anchor="middle">GO</text>
<text x="396" y="727" class="lbl" text-anchor="middle">GO</text>
<text x="161" y="778.5" class="lbl" text-anchor="middle">BN</text>
<text x="396" y="778.5" class="lbl" text-anchor="middle">BN</text>
<text x="276" y="755" font-size="20" text-anchor="middle">conserved eigenarray 2</text>
</g>
<g id="pill3">
<rect x="129" y="806" width="294" height="92" rx="24" fill="#c0c0c0"/>
<text x="160" y="830" class="lbl" text-anchor="middle">GO</text>
<text x="396" y="830" class="lbl" text-anchor="middle">GO</text>
<text x="161" y="881.5" class="lbl" text-anchor="middle">BN</text>
<text x="396" y="881.5" class="lbl" text-anchor="middle">BN</text>
<text x="276" y="858" font-size="20" text-anchor="middle">conserved eigenarray 3</text>
</g>

<g id="connectors">
<line x1="143" y1="164" x2="104" y2="164" class="ln" marker-end="url(#ah)"/>
<text x="131" y="151" class="lbl" text-anchor="middle">SVD</text>
<line x1="433" y1="164" x2="462" y2="164" class="ln" marker-end="url(#ah)"/>
<text x="449" y="151" class="lbl" text-anchor="middle">SVD</text>

<line x1="50" y1="412" x2="153" y2="464" class="dk"/>
<line x1="104" y1="412" x2="207" y2="464" class="dk"/>
<line x1="462" y1="360" x2="307" y2="464" class="dk"/>
<line x1="568" y1="360" x2="409" y2="464" class="dk"/>

<line x1="277.5" y1="325" x2="207" y2="464" class="db"/>
<line x1="277.5" y1="325" x2="307" y2="567" class="db"/>
<line x1="277.5" y1="418" x2="207" y2="567" class="db"/>
<line x1="277.5" y1="418" x2="307" y2="464" class="db"/>

<path d="M169.2,567 V651 H220" class="red"/>
<path d="M323.5,567 V593 H225 V646" class="red"/>

<path d="M78.3,412 V722.7 H125.7" class="ln"/>
<path d="M73.3,412 V775 H125.7" class="ln"/>
<path d="M68.3,412 V825 H121" class="ln"/>
<path d="M62.8,412 V877.7 H115.7" class="ln"/>
<path d="M477.3,360 V722.7 H425" class="ln"/>
<path d="M482.5,360 V775 H430" class="ln"/>
<path d="M487.5,360 V825 H435" class="ln"/>
<path d="M492.7,360 V877.7 H440" class="ln"/>

<line x1="185.7" y1="722.3" x2="360.7" y2="722.3" class="ln" marker-start="url(#ah)" marker-end="url(#ah)"/>
<line x1="200" y1="769" x2="360.7" y2="769" class="ln" marker-end="url(#ah)"/>
<line x1="344" y1="779.3" x2="185.7" y2="779.3" class="ln" marker-end="url(#ah)"/>
<line x1="185.7" y1="825.7" x2="360.7" y2="825.7" class="ln" marker-start="url(#ah)" marker-end="url(#ah)"/>
<line x1="201.7" y1="872.3" x2="360.7" y2="872.3" class="ln" marker-end="url(#ah)"/>
<line x1="345" y1="884.3" x2="185.7" y2="884.3" class="ln" marker-end="url(#ah)"/>
</g>
</svg>
